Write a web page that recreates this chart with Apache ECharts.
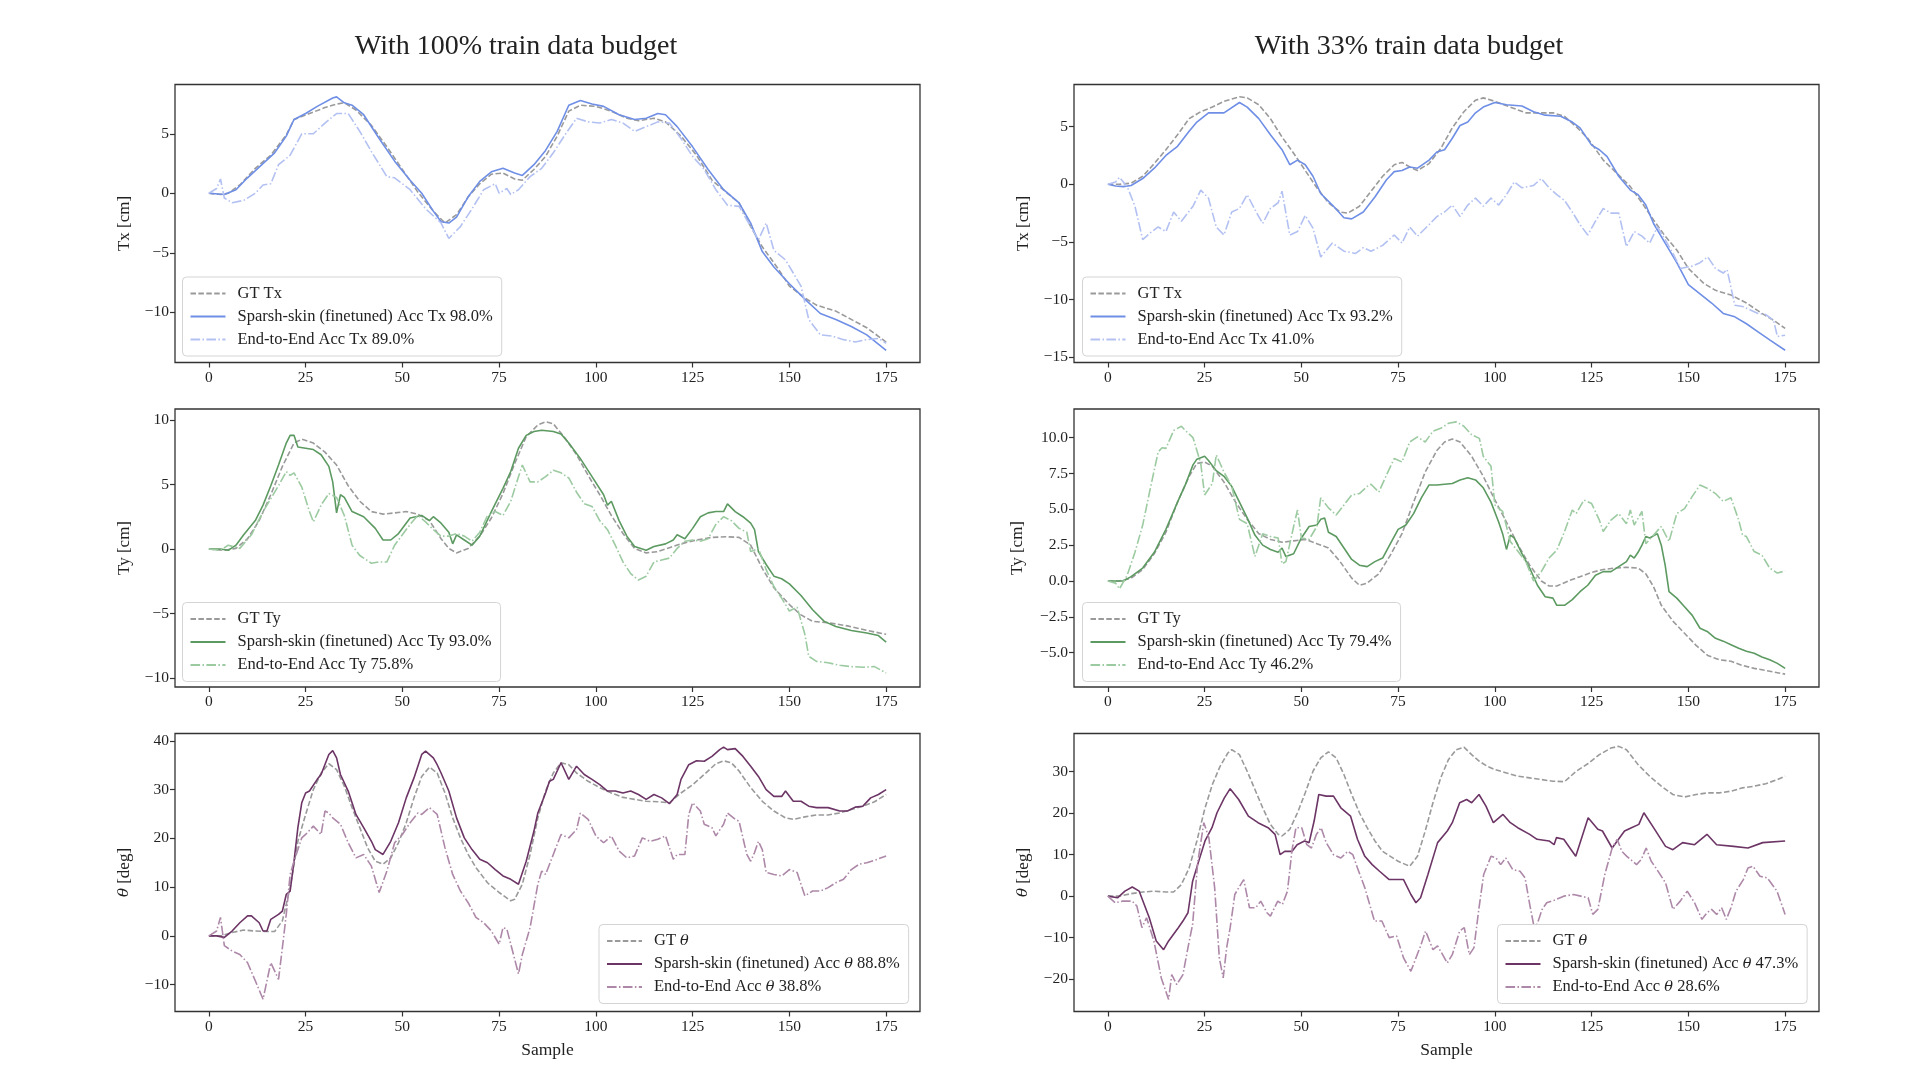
<!DOCTYPE html>
<html><head><meta charset="utf-8">
<script src="https://cdn.jsdelivr.net/npm/echarts@6.0.0/dist/echarts.min.js"></script>
<style>html,body{margin:0;padding:0;background:#fff}#c{width:1920px;height:1080px}</style>
</head><body><div id="c"></div>
<script>
// ---------- tick labels / categories ----------
const xTicks = [0, 25, 50, 75, 100, 125, 150, 175];
const panelTitles = ['With 100% train data budget', 'With 33% train data budget'];
const txTicks100 = [-10, -5, 0, 5];
const txTicks33 = [-15, -10, -5, 0, 5];
const tyTicks100 = [-10, -5, 0, 5, 10];
const tyTicks33 = [-5, -2.5, 0, 2.5, 5, 7.5, 10];
const thTicks100 = [-10, 0, 10, 20, 30, 40];
const thTicks33 = [-20, -10, 0, 10, 20, 30];

// ---------- series names ----------
const namesTx100 = ['GT Tx', 'Sparsh-skin (finetuned) Acc Tx 98.0%', 'End-to-End Acc Tx 89.0%'];
const namesTx33 = ['GT Tx', 'Sparsh-skin (finetuned) Acc Tx 93.2%', 'End-to-End Acc Tx 41.0%'];
const namesTy100 = ['GT Ty', 'Sparsh-skin (finetuned) Acc Ty 93.0%', 'End-to-End Acc Ty 75.8%'];
const namesTy33 = ['GT Ty', 'Sparsh-skin (finetuned) Acc Ty 79.4%', 'End-to-End Acc Ty 46.2%'];
const namesTh100 = ['GT θ', 'Sparsh-skin (finetuned) Acc θ 88.8%', 'End-to-End Acc θ 38.8%'];
const namesTh33 = ['GT θ', 'Sparsh-skin (finetuned) Acc θ 47.3%', 'End-to-End Acc θ 28.6%'];

// ---------- Tx, 100% ----------
const txGT100 = [[0,0],[3,-0.1],[5,0],[8,0.7],[12,2.1],[16,3.2],[20,4.9],[22,6.2],[26,6.7],[30,7.2],[33,7.5],[35,7.6],[38,7.0],[42,5.7],[46,3.9],[50,2.0],[54,0.1],[58,-1.5],[61,-2.5],[64,-1.8],[67,-0.3],[70,0.8],[73,1.6],[76,1.7],[79,1.2],[81,1.1],[84,2.0],[87,3.1],[90,4.8],[93,6.9],[96,7.4],[100,7.3],[104,6.9],[108,6.3],[111,6.1],[115,6.3],[118,6.0],[122,4.8],[126,3.2],[130,1.1],[134,0.0],[137,-0.8],[140,-2.8],[143,-4.5],[147,-6.3],[150,-7.8],[154,-8.8],[157,-9.4],[162,-9.9],[166,-10.6],[170,-11.3],[175,-12.5]];
const txSp100 = [[0,0],[4,-0.1],[7,0.3],[10,1.3],[13,2.2],[17,3.4],[20,4.8],[22,6.2],[25,6.7],[28,7.3],[32,8.0],[33,8.1],[35,7.6],[37,7.4],[40,6.6],[44,4.6],[48,2.7],[52,1.1],[55,0],[58,-1.5],[60,-2.4],[62,-2.5],[64,-2.0],[67,-0.3],[70,1.0],[73,1.8],[76,2.1],[79,1.7],[81,1.5],[84,2.4],[87,3.6],[90,5.2],[93,7.4],[96,7.8],[99,7.5],[102,7.3],[106,6.6],[110,6.2],[113,6.3],[116,6.7],[118,6.6],[121,5.6],[125,3.9],[129,2.0],[133,0.3],[137,-0.8],[140,-2.5],[143,-4.9],[146,-6.2],[150,-7.6],[154,-8.9],[158,-10.1],[162,-10.6],[166,-11.2],[170,-11.9],[175,-13.2]];
const txE2E100 = [[0,0],[2,0.4],[3,1.2],[4,-0.4],[6,-0.8],[9,-0.6],[12,0],[14,0.7],[16,0.8],[18,2.4],[21,3.2],[24,5.0],[27,5.0],[30,5.9],[33,6.7],[36,6.7],[39,5.2],[42,3.5],[46,1.4],[48,1.3],[52,0.3],[56,-1.3],[60,-2.5],[62,-3.8],[65,-2.8],[68,-1.3],[71,0.3],[74,0.8],[75,0],[77,0.4],[78,-0.1],[80,0.3],[83,1.4],[86,2.1],[89,3.4],[92,4.9],[95,6.3],[98,6.0],[101,5.9],[104,6.2],[107,5.9],[110,5.2],[113,5.6],[116,6.0],[119,5.9],[122,4.6],[125,3.1],[128,2.0],[131,0.3],[134,-1.0],[137,-1.1],[140,-2.8],[142,-3.9],[144,-2.5],[146,-4.8],[149,-5.6],[151,-6.7],[153,-7.8],[155,-10.6],[158,-11.9],[161,-12.0],[164,-12.3],[167,-12.5],[170,-12.3],[173,-12.2],[175,-12.6]];

// ---------- Tx, 33% ----------
const txGT33 = [[0,0],[3,0],[6,0.1],[9,0.7],[12,1.8],[15,3.0],[18,4.3],[21,5.7],[24,6.3],[27,6.7],[30,7.2],[34,7.6],[36,7.5],[39,6.9],[42,5.7],[45,4.1],[48,2.7],[51,1.2],[54,-0.3],[57,-1.6],[60,-2.4],[62,-2.5],[65,-1.9],[68,-0.6],[71,0.7],[74,1.7],[76,1.9],[78,1.5],[80,1.2],[83,1.8],[86,3.1],[89,4.9],[92,6.3],[95,7.3],[97,7.5],[100,7.2],[104,6.7],[108,6.2],[112,6.2],[115,6.2],[118,5.9],[121,5.0],[124,4.0],[128,2.1],[132,0.8],[135,-0.2],[138,-1.6],[141,-3.1],[144,-4.5],[147,-5.7],[150,-7.3],[154,-8.6],[157,-9.2],[161,-9.6],[165,-10.3],[169,-11.2],[172,-11.8],[175,-12.5]];
const txSp33 = [[0,0],[2,-0.15],[4,-0.2],[6,-0.1],[9,0.5],[12,1.4],[15,2.5],[18,3.3],[21,4.6],[23,5.4],[26,6.2],[30,6.2],[34,7.1],[36,6.7],[39,5.7],[42,4.3],[45,3.0],[47,1.7],[49,2.1],[51,1.7],[53,0.7],[55,-0.8],[58,-1.8],[61,-2.9],[63,-3.0],[66,-2.4],[69,-1.1],[72,0.4],[74,1.1],[76,1.2],[78,1.5],[80,1.4],[83,2.1],[85,2.8],[87,3.0],[89,4.0],[91,5.1],[93,5.4],[95,6.2],[97,6.7],[100,7.1],[103,6.9],[107,6.8],[110,6.3],[113,6.0],[117,5.9],[120,5.4],[122,4.9],[125,3.4],[127,3.0],[129,2.4],[132,0.7],[135,-0.5],[137,-0.9],[139,-1.8],[141,-3.4],[144,-5.1],[147,-6.8],[150,-8.7],[153,-9.5],[156,-10.3],[159,-11.2],[162,-11.5],[165,-12.1],[168,-12.8],[171,-13.5],[175,-14.4]];
const txE2E33 = [[0,0],[2,0.2],[3,0.6],[5,-0.2],[7,-1.9],[9,-4.8],[11,-4.2],[13,-3.7],[15,-4.1],[17,-2.4],[19,-3.2],[22,-1.9],[24,-0.5],[26,-1.2],[28,-3.7],[30,-4.4],[32,-2.4],[34,-2.1],[36,-0.9],[38,-2.2],[40,-3.4],[42,-2.1],[44,-1.6],[45,-0.6],[47,-4.4],[49,-4.1],[51,-2.7],[53,-3.8],[55,-6.3],[58,-5.1],[61,-5.8],[64,-6.0],[66,-5.5],[68,-5.8],[71,-5.3],[74,-4.4],[76,-5.1],[78,-3.7],[80,-4.5],[83,-3.5],[85,-2.8],[87,-2.4],[89,-1.8],[91,-2.8],[93,-1.8],[95,-1.2],[97,-1.9],[99,-1.2],[101,-1.8],[103,-0.9],[105,0.2],[107,-0.3],[110,-0.1],[112,0.5],[114,-0.3],[116,-0.9],[118,-1.4],[120,-2.4],[122,-3.5],[124,-4.4],[126,-3.2],[128,-2.1],[130,-2.5],[132,-2.5],[134,-5.4],[136,-4.1],[138,-4.5],[140,-5.1],[142,-3.7],[144,-4.8],[146,-6.0],[148,-7.3],[151,-7.1],[153,-6.8],[155,-6.3],[157,-7.3],[159,-7.7],[160,-7.4],[162,-10.5],[164,-10.6],[166,-10.9],[168,-11.2],[170,-11.3],[172,-11.8],[173,-13.2],[175,-13.1]];

// ---------- Ty, 100% ----------
const tyGT100 = [[0,0],[4,-0.1],[7,0.05],[10,0.8],[13,2.2],[16,4.2],[19,6.4],[22,8.2],[24,8.5],[27,8.2],[30,7.5],[33,6.5],[36,4.9],[39,3.7],[42,2.9],[45,2.7],[48,2.8],[51,2.9],[54,2.7],[57,2.2],[60,0.8],[62,0.05],[64,-0.3],[67,0.05],[70,1.0],[73,2.4],[76,4.3],[79,6.6],[82,8.7],[85,9.6],[87,9.85],[89,9.7],[92,8.6],[95,7.3],[98,5.7],[101,4.2],[104,2.6],[107,1.2],[110,0.05],[113,-0.3],[116,-0.2],[119,0.1],[122,0.4],[126,0.7],[130,0.9],[134,0.95],[137,0.9],[140,0.3],[143,-1.5],[146,-3.0],[150,-4.3],[153,-5.1],[156,-5.6],[160,-5.7],[165,-5.95],[170,-6.3],[175,-6.6]];
const tySp100 = [[0,0],[3,0],[5,-0.1],[7,0.3],[9,1.1],[12,2.2],[14,3.4],[16,4.9],[18,6.5],[20,8.2],[21,8.8],[22,8.8],[23,7.9],[25,7.8],[27,7.7],[29,7.3],[31,6.4],[32,5.2],[33,2.8],[34,4.2],[35,4.0],[37,2.9],[40,2.5],[43,1.6],[45,0.7],[47,0.7],[49,1.2],[52,2.4],[55,2.6],[57,2.2],[58,2.5],[60,2.0],[62,1.3],[63,0.4],[64,1.1],[66,0.7],[68,0.3],[70,1.0],[73,2.9],[76,4.7],[78,6.0],[80,7.8],[82,8.8],[84,9.1],[86,9.2],[89,9.1],[91,8.9],[93,8.2],[96,7.0],[99,5.6],[102,4.2],[103,3.4],[104,3.7],[106,2.2],[108,1.0],[110,0.2],[113,-0.1],[115,0.2],[118,0.4],[120,0.7],[121,1.1],[123,0.8],[125,1.6],[127,2.5],[129,2.8],[131,2.9],[133,2.9],[134,3.5],[136,2.9],[138,2.5],[140,2.0],[141,1.5],[142,-0.2],[144,-1.2],[146,-2.1],[148,-2.3],[150,-2.7],[153,-3.6],[156,-4.7],[159,-5.6],[162,-6.0],[166,-6.3],[170,-6.5],[173,-6.7],[175,-7.2]];
const tyE2E100 = [[0,0],[3,-0.1],[5,0.3],[8,0.05],[11,1.1],[14,2.9],[16,3.9],[18,4.9],[20,6.0],[21,5.7],[22,5.9],[24,4.8],[26,2.9],[27,2.1],[29,3.4],[31,4.3],[33,4.0],[35,2.6],[37,0.3],[39,-0.5],[42,-1.1],[44,-1.0],[46,-1.0],[48,0.3],[50,1.1],[52,1.9],[54,2.6],[56,2.1],[58,1.5],[60,1.0],[62,1.0],[64,1.2],[66,1.0],[68,0.6],[70,1.3],[72,2.6],[74,2.9],[76,2.6],[78,3.7],[80,5.6],[81,6.5],[83,5.2],[85,5.2],[87,5.6],[89,6.1],[91,5.9],[93,5.5],[95,4.4],[97,3.5],[99,3.3],[101,2.2],[103,1.5],[105,0.3],[107,-1.0],[109,-1.9],[111,-2.4],[113,-2.1],[115,-1.0],[117,-0.85],[119,-0.7],[121,0.05],[123,0.6],[125,0.7],[127,0.6],[129,0.8],[131,1.9],[133,2.5],[135,2.2],[137,1.6],[139,1.3],[140,-0.2],[142,0.05],[144,-1.6],[146,-2.9],[148,-3.8],[150,-4.8],[152,-4.5],[154,-6.6],[155,-8.3],[157,-8.7],[160,-8.8],[163,-9.0],[166,-9.1],[169,-9.15],[172,-9.1],[175,-9.6]];

// ---------- Ty, 33% ----------
const tyGT33 = [[0,0],[3,0],[6,0.2],[9,0.8],[12,1.9],[15,3.4],[18,5.5],[21,7.3],[23,8.2],[25,8.3],[27,8.0],[30,6.9],[33,5.5],[36,4.3],[39,3.3],[42,2.9],[45,2.7],[48,2.8],[51,2.9],[54,2.6],[57,2.3],[60,1.35],[63,0.2],[65,-0.3],[67,-0.15],[70,0.5],[73,1.8],[76,3.3],[79,5.5],[82,7.6],[85,9.1],[87,9.7],[89,9.9],[91,9.7],[94,8.7],[97,7.3],[100,5.65],[103,4.1],[106,2.5],[109,1.1],[112,0],[114,-0.35],[116,-0.35],[119,0],[122,0.3],[125,0.6],[128,0.8],[131,0.9],[134,0.95],[137,0.9],[139,0.5],[141,-0.4],[143,-1.7],[146,-2.8],[149,-3.65],[152,-4.5],[155,-5.2],[158,-5.5],[161,-5.6],[164,-5.9],[167,-6.1],[170,-6.25],[175,-6.5]];
const tySp33 = [[0,0],[2,0],[4,0],[6,0.3],[9,0.9],[12,2.0],[15,3.6],[18,5.5],[20,6.7],[22,8.1],[23,8.5],[25,8.7],[26,8.4],[28,7.7],[30,7.3],[32,6.6],[34,5.5],[36,4.4],[38,3.2],[40,2.5],[42,2.2],[44,2.0],[45,2.3],[46,1.7],[48,1.9],[50,3.0],[52,3.8],[54,3.9],[55,4.3],[56,4.4],[57,3.4],[59,3.1],[61,2.3],[63,1.5],[65,1.1],[67,1.0],[69,1.35],[71,1.6],[73,2.6],[75,3.6],[77,3.9],[79,4.7],[81,5.8],[83,6.7],[85,6.7],[87,6.75],[89,6.8],[91,7.05],[93,7.2],[95,7.05],[97,6.5],[99,5.5],[101,4.1],[102,3.3],[103,2.2],[104,3.2],[105,3.0],[107,1.9],[109,0.9],[111,-0.3],[113,-1.1],[115,-1.2],[116,-1.7],[118,-1.7],[120,-1.3],[122,-0.75],[124,-0.3],[126,0.4],[128,0.65],[130,0.65],[132,1.0],[134,1.35],[135,1.8],[136,1.6],[137,2.0],[138,2.5],[139,3.1],[140,3.0],[142,3.3],[143,2.5],[144,1.1],[145,-0.75],[147,-1.2],[149,-1.8],[151,-2.4],[153,-3.3],[155,-3.55],[157,-4.0],[159,-4.2],[161,-4.45],[163,-4.7],[165,-4.9],[167,-5.05],[169,-5.3],[171,-5.5],[173,-5.75],[175,-6.1]];
const tyE2E33 = [[0,0],[2,-0.15],[3,-0.55],[5,0.4],[7,2.0],[9,3.9],[11,6.5],[13,9.0],[14,9.3],[15,9.25],[17,10.5],[19,10.8],[20,10.5],[22,10.0],[24,8.2],[25,6.0],[27,6.8],[28,8.8],[30,7.6],[32,6.6],[34,4.3],[36,4.0],[38,1.7],[40,3.3],[42,3.1],[44,3.0],[45,1.2],[46,1.35],[48,3.8],[49,4.95],[50,3.0],[52,2.9],[54,3.8],[55,5.8],[57,5.1],[59,4.6],[61,5.3],[63,6.0],[65,6.1],[67,6.6],[68,6.75],[70,6.2],[72,7.4],[74,8.55],[76,8.3],[78,9.7],[80,10.05],[82,9.7],[84,10.45],[86,10.65],[88,11.0],[90,11.1],[92,10.8],[94,10.2],[96,9.95],[97,8.7],[99,8.0],[100,5.3],[102,4.85],[104,2.75],[106,2.05],[108,1.35],[110,0],[112,0.65],[114,1.6],[116,2.15],[118,3.45],[120,4.95],[121,4.7],[123,5.65],[125,5.4],[127,4.25],[128,3.45],[130,4.25],[132,4.7],[134,4.0],[135,4.95],[136,3.9],[138,4.85],[139,2.6],[141,3.2],[143,3.8],[145,2.75],[147,4.7],[149,5.05],[151,5.9],[153,6.7],[155,6.45],[157,6.1],[159,5.55],[161,5.8],[163,4.25],[164,3.2],[165,3.1],[167,2.05],[169,1.8],[171,0.9],[173,0.55],[175,0.7]];

// ---------- theta, 100% ----------
const thGT100 = [[0,0],[3,0],[6,0.7],[9,1.2],[12,1.0],[15,0.9],[17,0.9],[19,3.1],[21,9.9],[23,19.4],[25,24.9],[27,30.0],[29,33.4],[31,35.3],[33,34.1],[35,30.7],[37,26.3],[39,22.2],[41,18.1],[43,15.3],[45,14.7],[47,16.0],[49,19.1],[51,23.2],[53,28.3],[55,32.7],[57,34.6],[59,33.4],[61,29.3],[63,24.2],[65,20.1],[67,16.7],[69,14.0],[72,10.9],[75,8.9],[78,7.2],[79,7.5],[81,10.6],[83,16.7],[85,24.2],[87,29.7],[89,33.4],[91,35.5],[93,35.1],[95,33.4],[98,31.7],[101,30.4],[104,29.3],[107,28.4],[110,28.0],[113,27.6],[116,27.5],[119,27.3],[122,29.3],[125,31.0],[128,33.1],[131,35.3],[133,35.9],[135,35.5],[137,33.8],[140,30.4],[143,27.6],[146,25.6],[149,24.2],[151,23.9],[154,24.4],[157,24.8],[160,24.8],[163,25.2],[166,25.9],[169,26.6],[172,27.5],[175,29.0]];
const thSp100 = [[0,0],[2,0],[4,-0.3],[6,1.0],[8,2.7],[10,4.1],[11,4.1],[13,2.7],[14,1.0],[15,1.0],[16,3.4],[18,4.4],[19,5.1],[20,8.5],[21,9.2],[22,15.3],[23,22.2],[24,27.3],[25,29.3],[26,29.7],[28,32.1],[29,33.1],[31,37.2],[32,38.0],[33,36.5],[34,33.1],[36,29.7],[38,24.9],[40,22.2],[42,19.4],[43,17.7],[45,16.7],[47,19.4],[49,23.2],[51,28.3],[53,32.4],[55,37.2],[56,37.9],[58,36.5],[59,35.1],[60,33.4],[62,29.7],[64,24.2],[66,20.1],[68,17.7],[70,15.7],[72,15.0],[74,13.6],[76,12.3],[78,11.6],[80,10.6],[82,15.3],[84,21.5],[85,25.2],[87,29.3],[88,31.7],[89,32.1],[91,35.5],[93,32.1],[95,34.8],[97,33.1],[99,32.1],[101,31.0],[103,29.7],[105,29.7],[107,29.3],[109,29.7],[111,29.0],[113,28.0],[115,29.0],[117,28.3],[119,27.1],[121,29.0],[122,32.1],[124,35.1],[126,35.9],[128,35.8],[130,36.8],[132,38.2],[133,38.7],[134,38.2],[136,38.4],[138,36.8],[140,34.8],[142,32.7],[144,30.0],[146,28.6],[148,28.6],[149,29.7],[151,27.6],[153,27.6],[155,26.6],[157,26.3],[160,26.3],[163,25.6],[165,25.6],[167,26.4],[169,26.6],[171,28.3],[173,29.0],[175,30.0]];
const thE2E100 = [[0,0],[2,1.0],[3,3.8],[4,-2.0],[6,-3.1],[8,-3.8],[10,-5.5],[12,-9.2],[14,-13.0],[16,-5.5],[18,-8.9],[19,-2.4],[20,4.4],[21,12.6],[22,15.3],[24,20.1],[25,20.8],[27,22.5],[29,20.8],[30,25.6],[31,25.2],[32,24.2],[34,22.9],[36,19.1],[38,16.0],[40,16.7],[42,14.3],[44,8.9],[46,13.3],[48,19.1],[50,20.8],[52,23.2],[54,25.2],[55,24.9],[57,26.3],[59,24.9],[61,18.1],[63,12.6],[65,9.2],[67,6.8],[69,3.8],[71,2.7],[73,1.0],[75,-1.7],[76,1.7],[77,1.4],[80,-7.8],[81,-3.8],[83,1.7],[85,10.6],[86,13.3],[87,12.6],[89,16.7],[91,20.8],[93,20.1],[95,21.8],[96,25.2],[98,23.9],[100,20.5],[102,19.1],[104,20.5],[106,17.4],[108,16.0],[110,16.4],[112,20.1],[114,19.4],[116,19.8],[118,20.5],[120,15.7],[121,16.7],[123,16.7],[124,24.9],[125,27.3],[127,25.6],[128,22.9],[130,22.2],[131,20.5],[133,22.9],[134,25.2],[136,23.9],[137,23.5],[139,16.7],[140,15.3],[141,17.1],[142,19.4],[143,17.7],[144,13.0],[146,12.6],[148,12.3],[150,13.6],[152,13.0],[154,8.2],[156,9.2],[158,9.2],[160,9.9],[162,10.9],[164,11.6],[166,13.6],[168,14.7],[170,15.0],[172,15.5],[175,16.4]];

// ---------- theta, 33% ----------
const thGT33 = [[0,0],[3,0],[6,0.6],[9,1.0],[12,1.2],[15,1.0],[17,1.0],[19,2.8],[21,6.8],[23,13.3],[25,20.9],[27,26.9],[29,31.3],[31,34.5],[32,35.3],[34,34.1],[36,30.1],[38,25.7],[40,21.3],[42,17.3],[44,14.9],[45,14.5],[47,16.1],[49,20.1],[51,24.9],[53,30.1],[55,33.3],[57,34.8],[59,33.3],[61,29.3],[63,24.5],[65,20.1],[67,16.5],[69,13.3],[71,10.8],[73,9.6],[75,8.4],[77,7.6],[78,7.2],[80,9.6],[82,15.7],[84,22.5],[86,28.5],[88,32.9],[90,35.3],[92,35.9],[94,34.1],[96,32.5],[98,31.3],[100,30.5],[103,29.7],[106,28.9],[109,28.5],[112,28.1],[115,27.7],[118,27.6],[121,30.1],[124,31.9],[127,34.1],[130,35.7],[132,36.1],[134,35.3],[137,31.7],[140,28.9],[143,26.5],[146,24.5],[149,23.9],[152,24.5],[155,24.9],[158,24.9],[161,25.3],[164,26.1],[167,26.5],[170,27.1],[173,28.1],[175,28.9]];
const thSp33 = [[0,0],[2.5,-0.4],[4.4,1.2],[6.3,2.2],[8.1,1.2],[10.7,-5.2],[12.5,-10.8],[14.4,-12.9],[15.7,-10.8],[18.2,-7.6],[19.4,-6.0],[20.7,-4.0],[21.9,3.6],[23.2,7.6],[25.1,13.3],[26.9,16.5],[28.2,20.1],[30.1,23.7],[31.6,25.9],[33.8,23.3],[36.3,19.3],[38.8,17.7],[41.4,16.5],[43.2,14.9],[44.5,10.0],[45.7,10.8],[47.6,10.8],[48.9,12.4],[50.8,13.3],[52.0,12.9],[53.3,18.1],[54.5,24.5],[56.4,24.1],[58.3,24.1],[60.2,21.3],[62.7,19.3],[64.5,13.7],[66.4,9.6],[68.3,7.6],[70.2,6.0],[72.7,4.0],[76.4,4.0],[78.3,0.4],[79.6,-1.6],[80.8,-0.4],[82.7,5.2],[85.2,12.9],[87.7,15.7],[89.0,17.7],[90.9,22.5],[92.7,23.3],[94.0,22.5],[95.9,24.5],[97.7,21.7],[99.6,17.7],[102.1,19.7],[104.0,17.7],[105.9,16.5],[109.0,14.9],[110.9,13.7],[114.0,13.3],[115.3,12.4],[115.9,14.1],[117.8,13.7],[119.7,11.2],[120.9,9.6],[124.1,18.9],[126.6,16.1],[127.8,15.7],[130.3,11.6],[133.5,15.7],[135.3,16.5],[137.2,17.3],[138.5,20.1],[141.0,16.5],[144.1,12.0],[146.0,11.2],[148.5,12.9],[151.6,12.4],[154.8,14.9],[157.3,12.4],[161.7,12.0],[165.4,11.6],[169.2,12.9],[175,13.3]];
const thE2E33 = [[0,0],[1.9,-1.6],[3.8,-1.2],[6.3,-1.2],[7.5,-2.4],[8.8,-7.6],[10.0,-5.2],[11.9,-10.8],[13.8,-19.7],[15.7,-24.9],[16.5,-18.9],[17.8,-21.3],[19.4,-18.9],[20.7,-12.4],[21.9,-6.8],[23.2,8.0],[24.8,17.7],[26.1,14.1],[27.6,2.0],[28.8,-14.9],[29.8,-19.7],[30.7,-12.4],[31.6,-7.6],[32.8,0.4],[33.8,2.0],[35.1,4.0],[36.6,-2.8],[38.2,-2.8],[39.5,-1.2],[41.1,-4.0],[42.0,-4.8],[43.9,-1.2],[45.1,-2.0],[46.4,1.2],[47.6,11.2],[48.6,16.5],[50.1,16.5],[51.4,12.4],[52.6,11.6],[53.9,14.9],[55.1,16.5],[56.4,12.9],[58.3,10.0],[60.2,9.2],[62.0,10.8],[63.3,10.0],[64.5,6.8],[66.4,2.0],[68.9,-6.0],[70.8,-6.0],[72.7,-10.0],[74.6,-9.6],[76.4,-14.9],[78.3,-18.1],[79.6,-14.9],[80.8,-12.0],[82.1,-8.4],[84.0,-12.9],[85.2,-12.0],[86.5,-14.1],[87.7,-16.1],[89.0,-14.1],[90.9,-8.4],[92.1,-7.6],[93.4,-14.1],[94.6,-12.4],[95.9,-2.8],[97.1,5.2],[99.0,9.6],[100.3,9.2],[101.5,7.6],[102.8,9.2],[104.6,6.4],[106.5,6.0],[107.8,4.4],[109.0,-2.0],[110.0,-6.8],[110.9,-6.8],[112.2,-3.2],[113.4,-1.6],[115.3,-1.0],[117.8,0],[120.3,0.4],[122.2,0],[124.1,-0.4],[125.3,-4.4],[126.6,-3.2],[128.4,5.2],[130.3,11.6],[131.6,13.7],[132.8,10.8],[134.1,9.6],[136.6,7.6],[137.8,8.8],[139.1,11.6],[140.4,8.4],[141.6,6.8],[144.1,3.2],[146.0,-3.2],[147.9,-1.2],[149.7,1.2],[151.6,-1.6],[153.5,-5.6],[154.8,-4.0],[156.0,-3.2],[157.3,-4.4],[158.6,-2.8],[159.8,-5.6],[161.0,-2.8],[162.3,1.2],[164.2,4.0],[165.4,6.8],[166.7,7.2],[168.5,4.8],[170.4,4.4],[172.9,1.2],[175,-4.4]];

// ---------- layout / style ----------
const FONT = 'Liberation Serif';
const TXT = '#222';
const DASH = [5.5, 2.4];
const DASHDOT = [9.6, 2.4, 1.5, 2.4];
const GT_COLOR = '#9a9a9a';
const colors = {
  tx: ['#6f8fe6', '#b3c1f2'],
  ty: ['#5c9a61', '#9ccaa1'],
  th: ['#6c3565', '#ad88a8']
};
const GW = 745, GH = 278;
const gridPos = [[175, 84.5], [1074, 84.5], [175, 409], [1074, 409], [175, 733.5], [1074, 733.5]];

const panels = [
  {names: namesTx100, data: [txGT100, txSp100, txE2E100], col: colors.tx, ymin: -14.22, ymax: 9.14, ticks: txTicks100, dec: 0, yname: 'Tx [cm]', gap: 42, leg: [182.5, 277]},
  {names: namesTx33, data: [txGT33, txSp33, txE2E33], col: colors.tx, ymin: -15.46, ymax: 8.66, ticks: txTicks33, dec: 0, yname: 'Tx [cm]', gap: 42, leg: [1082.5, 277]},
  {names: namesTy100, data: [tyGT100, tySp100, tyE2E100], col: colors.ty, ymin: -10.68, ymax: 10.84, ticks: tyTicks100, dec: 0, yname: 'Ty [cm]', gap: 42, leg: [182.5, 602.5]},
  {names: namesTy33, data: [tyGT33, tySp33, tyE2E33], col: colors.ty, ymin: -7.4, ymax: 12.0, ticks: tyTicks33, dec: 1, yname: 'Ty [cm]', gap: 48, leg: [1082.5, 602.5]},
  {names: namesTh100, data: [thGT100, thSp100, thE2E100], col: colors.th, ymin: -15.5, ymax: 41.5, ticks: thTicks100, dec: 0, yname: '{i|θ} [deg]', gap: 42, leg: [599, 924.5]},
  {names: namesTh33, data: [thGT33, thSp33, thE2E33], col: colors.th, ymin: -27.8, ymax: 39.2, ticks: thTicks33, dec: 0, yname: '{i|θ} [deg]', gap: 42, leg: [1497.5, 924.5]}
];

const fmtNum = (v, d) => Number(v).toFixed(d).replace('-', '\u2212');

const grid = [], xAxis = [], yAxis = [], series = [], legend = [];
panels.forEach((p, i) => {
  grid.push({left: gridPos[i][0], top: gridPos[i][1], width: GW, height: GH, show: true, borderColor: '#333', borderWidth: 1.3, backgroundColor: 'rgba(0,0,0,0)', containLabel: false});
  xAxis.push({
    type: 'value', gridIndex: i, min: -8.75, max: 183.75, position: 'bottom',
    name: i >= 4 ? 'Sample' : '', nameLocation: 'middle', nameGap: 30,
    nameTextStyle: {fontFamily: FONT, fontSize: 17.5, color: TXT},
    axisLine: {show: false, onZero: false},
    axisTick: {show: true, inside: false, length: 5, customValues: xTicks, lineStyle: {color: '#333', width: 1.2}},
    axisLabel: {show: true, customValues: xTicks, margin: 7, fontFamily: FONT, fontSize: 15.5, color: TXT, formatter: v => fmtNum(v, 0)},
    splitLine: {show: false}
  });
  yAxis.push({
    type: 'value', gridIndex: i, min: p.ymin, max: p.ymax, position: 'left',
    name: p.yname, nameLocation: 'middle', nameGap: p.gap, nameRotate: 90,
    nameTextStyle: {fontFamily: FONT, fontSize: 17, color: TXT, rich: {i: {fontFamily: 'DejaVu Serif', fontStyle: 'italic', fontSize: 15, color: TXT}}},
    axisLine: {show: false, onZero: false},
    axisTick: {show: true, inside: false, length: 5, customValues: p.ticks, lineStyle: {color: '#333', width: 1.2}},
    axisLabel: {show: true, customValues: p.ticks, margin: 6, fontFamily: FONT, fontSize: 15.5, color: TXT, formatter: v => fmtNum(v, p.dec)},
    splitLine: {show: false}
  });
  const styles = [
    {color: GT_COLOR, type: DASH},
    {color: p.col[0], type: 'solid'},
    {color: p.col[1], type: DASHDOT}
  ];
  p.names.forEach((nm, k) => {
    series.push({
      type: 'line', name: nm, xAxisIndex: i, yAxisIndex: i, data: p.data[k],
      symbol: 'none', showSymbol: false, smooth: false, z: 2 + k,
      lineStyle: {color: styles[k].color, width: 1.6, type: styles[k].type},
      itemStyle: {color: styles[k].color},
      emphasis: {disabled: true}
    });
  });
  legend.push({
    show: true, orient: 'vertical', left: p.leg[0], top: p.leg[1],
    data: p.names.slice(),
    itemWidth: 35, itemHeight: 14, itemGap: 6,
    padding: [8, 9, 8, 7],
    itemStyle: {color: 'rgba(0,0,0,0)', borderWidth: 0, opacity: 0},
    backgroundColor: 'rgba(255,255,255,0.8)', borderColor: '#d4d4d4', borderWidth: 1, borderRadius: 4,
    selectedMode: false, z: 10,
    textStyle: {fontFamily: FONT, fontSize: 16.5, color: TXT, padding: [0, 0, 0, 7], rich: {i: {fontFamily: 'DejaVu Serif', fontStyle: 'italic', fontSize: 14.5, color: TXT}}},
    formatter: n => n.replace('θ', '{i|θ}')
  });
});

const chart = echarts.init(document.getElementById('c'), null, {renderer: 'canvas', width: 1920, height: 1080});
chart.setOption({
  backgroundColor: '#ffffff',
  animation: false,
  grid, xAxis, yAxis, series, legend,
  graphic: [
    {type: 'text', x: 516, y: 47, style: {text: panelTitles[0], fontFamily: FONT, fontSize: 28, fill: TXT, align: 'center', verticalAlign: 'middle'}},
    {type: 'text', x: 1409, y: 47, style: {text: panelTitles[1], fontFamily: FONT, fontSize: 28, fill: TXT, align: 'center', verticalAlign: 'middle'}}
  ]
});
</script>
</body></html>
